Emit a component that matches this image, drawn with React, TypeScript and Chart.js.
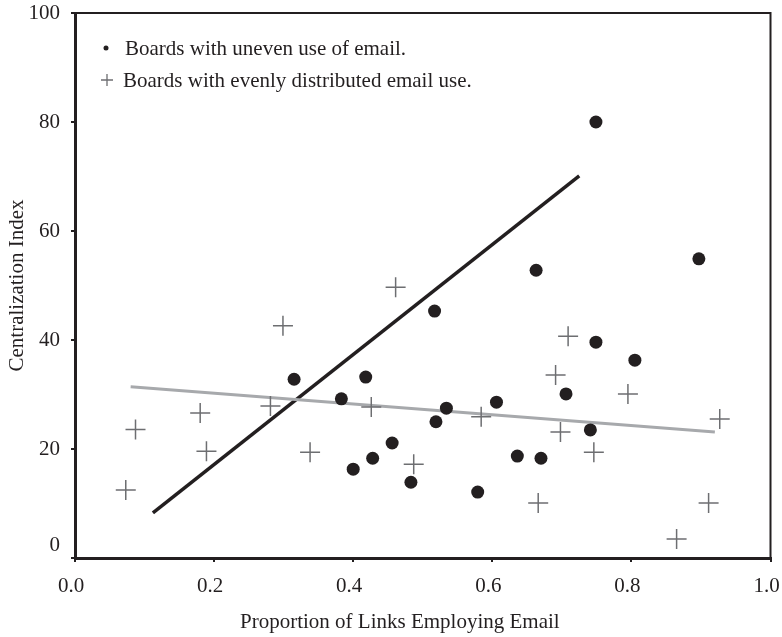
import React, { useEffect, useRef } from "react";
import { Chart, registerables } from "chart.js";

Chart.register(...registerables);

// Boards with uneven use of email (filled dots)
const unevenX = [0.315, 0.383, 0.400, 0.418, 0.428, 0.456, 0.483, 0.517, 0.519, 0.534, 0.579, 0.606, 0.636, 0.663, 0.670, 0.706, 0.741, 0.749, 0.749, 0.805, 0.897];
const unevenY = [32.8, 29.2, 16.3, 33.2, 18.3, 21.1, 13.9, 45.3, 25.0, 27.5, 12.1, 28.6, 18.7, 52.8, 18.3, 30.1, 23.5, 39.6, 80.0, 36.3, 54.9];

// Boards with evenly distributed email use (plus markers)
const evenX = [0.073, 0.087, 0.180, 0.189, 0.281, 0.299, 0.338, 0.426, 0.461, 0.487, 0.584, 0.666, 0.691, 0.698, 0.709, 0.746, 0.795, 0.865, 0.911, 0.927];
const evenY = [12.5, 23.6, 26.6, 19.6, 27.9, 42.6, 19.4, 27.7, 49.7, 17.2, 25.9, 10.1, 33.6, 23.1, 40.7, 19.4, 30.1, 3.5, 10.1, 25.5];

// Fitted lines
const unevenFitX = [0.112, 0.725];
const unevenFitY = [8.3, 70.1];
const evenFitX = [0.080, 0.920];
const evenFitY = [31.4, 23.1];

const xTicks = [0, 0.2, 0.4, 0.6, 0.8, 1.0];
const yTicks = [0, 20, 40, 60, 80, 100];

const legendLabels = [
  "Boards with uneven use of email.",
  "Boards with evenly distributed email use.",
];
const xTitle = "Proportion of Links Employing Email";
const yTitle = "Centralization Index";

const INK = "#231f20";
const GREY = "#6d6e71";
const LIGHT = "#a7a9ac";
const FONT = '"Liberation Serif", "Times New Roman", serif';
const FS = 21;

const pts = (xs: number[], ys: number[]) => xs.map((x, i) => ({ x, y: ys[i] }));

const framePlugin = {
  id: "frameAndLegend",
  afterDraw(chart: any) {
    const { ctx, chartArea } = chart;
    const { left, right, top, bottom } = chartArea;
    ctx.save();
    // top and right borders
    ctx.strokeStyle = INK;
    ctx.lineWidth = 2;
    ctx.beginPath();
    ctx.moveTo(left, top);
    ctx.lineTo(right, top);
    ctx.lineTo(right, bottom);
    ctx.stroke();

    // legend
    ctx.font = `${FS}px ${FONT}`;
    ctx.textBaseline = "alphabetic";
    ctx.textAlign = "left";
    ctx.fillStyle = INK;
    ctx.beginPath();
    ctx.arc(106, 48, 2.5, 0, Math.PI * 2);
    ctx.fill();
    ctx.fillText(legendLabels[0], 125, 55);

    ctx.strokeStyle = GREY;
    ctx.lineWidth = 1.3;
    ctx.beginPath();
    ctx.moveTo(101, 80);
    ctx.lineTo(113, 80);
    ctx.moveTo(107, 74);
    ctx.lineTo(107, 86);
    ctx.stroke();
    ctx.fillStyle = INK;
    ctx.fillText(legendLabels[1], 123, 87);

    // x-axis title
    ctx.textBaseline = "middle";
    ctx.fillText(xTitle, 240, 622);
    ctx.restore();
  },
};

export default function App() {
  const ref = useRef<HTMLCanvasElement | null>(null);

  useEffect(() => {
    if (!ref.current) return;
    const chart = new Chart(ref.current, {
      type: "scatter",
      data: {
        datasets: [
          {
            label: "uneven fit",
            data: pts(unevenFitX, unevenFitY),
            showLine: true,
            borderColor: INK,
            borderWidth: 3.5,
            pointRadius: 0,
            order: 3,
          },
          {
            label: "even fit",
            data: pts(evenFitX, evenFitY),
            showLine: true,
            borderColor: LIGHT,
            borderWidth: 3,
            pointRadius: 0,
            order: 2,
          },
          {
            label: legendLabels[0],
            data: pts(unevenX, unevenY),
            pointStyle: "circle",
            pointRadius: 6.5,
            backgroundColor: INK,
            borderColor: INK,
            borderWidth: 0,
            order: 1,
          },
          {
            label: legendLabels[1],
            data: pts(evenX, evenY),
            pointStyle: "cross",
            pointRadius: 10,
            borderColor: GREY,
            borderWidth: 1.5,
            backgroundColor: GREY,
            order: 0,
          },
        ],
      },
      options: {
        responsive: false,
        animation: false,
        layout: { padding: { top: 13, right: 9, left: 0, bottom: 0 } },
        plugins: {
          legend: { display: false },
          tooltip: { enabled: false },
        },
        scales: {
          x: {
            type: "linear",
            min: 0,
            max: 1,
            afterBuildTicks: (s: any) => {
              s.ticks = xTicks.map((v) => ({ value: v }));
            },
            afterFit: (s: any) => {
              s.height = 79;
              s.paddingLeft = 0;
              s.paddingRight = 0;
            },
            ticks: {
              callback: (v: any) => Number(v).toFixed(1),
              font: { family: FONT, size: FS },
              color: INK,
              padding: 12,
              maxRotation: 0,
              labelOffset: -4,
            },
            grid: {
              drawOnChartArea: false,
              drawTicks: true,
              tickLength: 4,
              color: INK,
              lineWidth: 2,
            },
            border: { display: true, color: INK, width: 3 },
            title: { display: false },
          },
          y: {
            type: "linear",
            min: 0,
            max: 100,
            afterBuildTicks: (s: any) => {
              s.ticks = yTicks.map((v) => ({ value: v }));
            },
            afterFit: (s: any) => {
              s.width = 75;
              s.paddingTop = 0;
              s.paddingBottom = 0;
            },
            ticks: {
              callback: (v: any) => (Number(v) === 0 ? ["0", ""] : String(v)),
              font: { family: FONT, size: FS },
              color: INK,
              padding: 11,
            },
            grid: {
              drawOnChartArea: false,
              drawTicks: true,
              tickLength: 4,
              color: INK,
              lineWidth: 2,
            },
            border: { display: true, color: INK, width: 3 },
            title: {
              display: true,
              text: yTitle,
              font: { family: FONT, size: FS },
              color: INK,
              padding: { top: 5, bottom: 0 },
            },
          },
        },
      },
      plugins: [framePlugin],
    });
    return () => chart.destroy();
  }, []);

  return (
    <div style={{ position: "fixed", left: 0, top: 0, width: 782, height: 637, background: "#fff" }}>
      <canvas ref={ref} width={782} height={637} style={{ width: 782, height: 637, display: "block" }} />
    </div>
  );
}
